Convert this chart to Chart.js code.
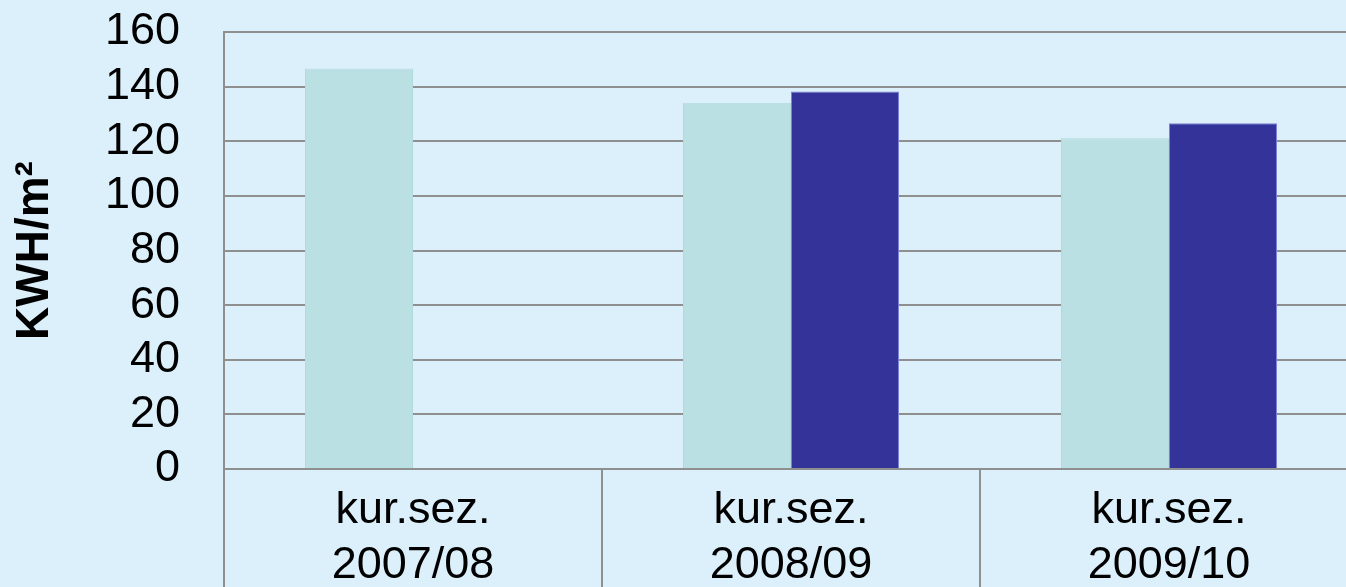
<!DOCTYPE html>
<html>
<head>
    <title>KWH/m2 po sezonach</title>
    <script src="https://cdn.jsdelivr.net/npm/chart.js"></script>
    <style>
        html, body {
            margin: 0;
            padding: 0;
            overflow: hidden;
            background: #dcf0fb;
        }
        #wrap {
            position: relative;
            width: 1358px;
            height: 660px;
        }
    </style>
</head>
<body>
    <div id="wrap">
        <canvas id="kwhChart"></canvas>
    </div>

    <script>
        const categories = [
            ['kur.sez.', '2007/08'],
            ['kur.sez.', '2008/09'],
            ['kur.sez.', '2009/10']
        ];
        const seriesA = [146.6, 134.1, 121.1];
        const seriesB = [null, 138.2, 126.6];
        const yTicks = [0, 20, 40, 60, 80, 100, 120, 140, 160];

        const gridColor = '#8f8f8f';
        const fontFamily = '"Liberation Sans", Arial, sans-serif';

        const ctx = document.getElementById('kwhChart').getContext('2d');
        const config = {
            type: 'bar',
            data: {
                labels: categories,
                datasets: [
                    {
                        label: 'A',
                        data: seriesA,
                        backgroundColor: '#bae0e3',
                        borderColor: '#b2dadd',
                        borderWidth: 1
                    },
                    {
                        label: 'B',
                        data: seriesB,
                        backgroundColor: '#333399',
                        borderColor: '#7c82d6',
                        borderWidth: 1
                    }
                ]
            },
            options: {
                responsive: true,
                maintainAspectRatio: false,
                animation: false,
                categoryPercentage: 0.5714,
                barPercentage: 1,
                layout: {
                    padding: 0
                },
                plugins: {
                    legend: { display: false },
                    tooltip: { enabled: false }
                },
                scales: {
                    x: {
                        offset: true,
                        grid: {
                            offset: true,
                            drawOnChartArea: false,
                            drawTicks: true,
                            tickLength: 140,
                            color: gridColor,
                            lineWidth: 2
                        },
                        border: { display: true, color: gridColor, width: 2 },
                        ticks: {
                            color: '#000',
                            padding: -126,
                            maxRotation: 0,
                            font: { family: fontFamily, size: 45, lineHeight: 1.22 }
                        },
                        afterFit: function (scale) {
                            scale.height = 660 - 469;
                        }
                    },
                    y: {
                        min: 0,
                        max: 160,
                        afterBuildTicks: function (scale) {
                            scale.ticks = yTicks.map(v => ({ value: v }));
                        },
                        grid: {
                            drawTicks: false,
                            color: gridColor,
                            lineWidth: 2
                        },
                        border: { display: true, color: gridColor, width: 2 },
                        ticks: {
                            color: '#000',
                            padding: 44,
                            autoSkip: false,
                            font: { family: fontFamily, size: 45 }
                        },
                        title: {
                            display: true,
                            text: 'KWH/m²',
                            color: '#000',
                            padding: { top: 8, bottom: 0 },
                            font: { family: fontFamily, size: 46, weight: 'bold' }
                        },
                        afterFit: function (scale) {
                            scale.width = 224;
                            scale.paddingTop = 32;
                            scale.paddingBottom = 0;
                        }
                    }
                }
            }
        };

        const kwhChart = new Chart(ctx, config);
    </script>
</body>
</html>
